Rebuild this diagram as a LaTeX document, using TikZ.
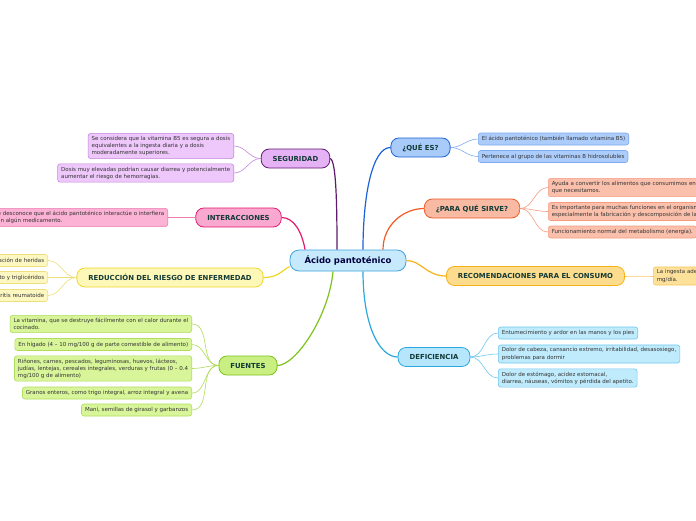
\documentclass[tikz,border=0pt]{standalone}
\usepackage{fontspec}
\setmainfont{DejaVu Sans}
\usepackage{tikz}
\usetikzlibrary{positioning}
\usepackage{xcolor}
\definecolor{topictxt}{HTML}{123A36}
\definecolor{leaftxt}{HTML}{333333}
\definecolor{cFill}{HTML}{C6E9FB}\definecolor{cLine}{HTML}{3FA3DE}
\definecolor{sgFill}{HTML}{E6B2F6}\definecolor{sgLine}{HTML}{5E1B6E}
\definecolor{sgLeaf}{HTML}{EEC7FB}\definecolor{sgEdge}{HTML}{C688DE}
\definecolor{inFill}{HTML}{F9A8D0}\definecolor{inLine}{HTML}{E5186E}
\definecolor{inLeaf}{HTML}{FBB2D4}\definecolor{inEdge}{HTML}{EF7DB1}
\definecolor{rdFill}{HTML}{FDF7B8}\definecolor{rdLine}{HTML}{F1D62A}
\definecolor{rdLeaf}{HTML}{FDF7C2}\definecolor{rdEdge}{HTML}{EEDF7C}
\definecolor{fuFill}{HTML}{C9EF82}\definecolor{fuLine}{HTML}{7EC31C}
\definecolor{fuLeaf}{HTML}{D8F59A}\definecolor{fuEdge}{HTML}{B0DC5C}
\definecolor{qeFill}{HTML}{A9CBFA}\definecolor{qeLine}{HTML}{1B62D6}
\definecolor{qeLeaf}{HTML}{ACCDFB}\definecolor{qeEdge}{HTML}{7DAAF0}
\definecolor{psFill}{HTML}{F9BAA4}\definecolor{psLine}{HTML}{F25A26}
\definecolor{psLeaf}{HTML}{FBC0AB}\definecolor{psEdge}{HTML}{F59C80}
\definecolor{rcFill}{HTML}{FDDC8E}\definecolor{rcLine}{HTML}{F7B21A}
\definecolor{rcLeaf}{HTML}{FDE09A}\definecolor{rcEdge}{HTML}{F8C860}
\definecolor{dfFill}{HTML}{B6E6FB}\definecolor{dfLine}{HTML}{2AA8E0}
\definecolor{dfLeaf}{HTML}{C0EBFC}\definecolor{dfEdge}{HTML}{6FC8F0}

\begin{document}
\begin{tikzpicture}[x=1pt,y=-1pt,
  topic/.style={draw,rounded corners=8pt,line width=0.8pt,minimum height=19pt,inner xsep=11.5pt,
    font=\fontsize{6.9}{8}\selectfont\bfseries,text=topictxt},
  leaf/.style={draw,rounded corners=2.5pt,line width=0.6pt,minimum height=12pt,inner xsep=3.5pt,
    inner ysep=2.8pt,align=left,font=\fontsize{5.5}{7.1}\selectfont,text=leaftxt},
  link/.style={line width=1.2pt},
  twig/.style={line width=0.6pt}]
\useasboundingbox (0,0) rectangle (696,520);
\clip (0,0) rectangle (696,520);
\fill[white] (0,0) rectangle (696,520);

% central topic
\node[draw=cLine,fill=cFill,line width=0.8pt,rounded corners=9pt,minimum width=116pt,minimum height=21pt,
  font=\fontsize{8.5}{10}\selectfont\bfseries,text=black!75!blue] (c) at (348,260.5) {Ácido pantoténico};

% main topics
\node[topic,draw=sgLine,fill=sgFill] (sg) at (295.5,158.5) {SEGURIDAD};
\node[topic,draw=inLine,fill=inFill] (in) at (238.5,217.5) {INTERACCIONES};
\node[topic,draw=rdLine,fill=rdFill] (rd) at (170,277.5) {REDUCCIÓN DEL RIESGO DE ENFERMEDAD};
\node[topic,draw=fuLine,fill=fuFill] (fu) at (248,365.5) {FUENTES};
\node[topic,draw=qeLine,fill=qeFill] (qe) at (420.5,147.5) {¿QUÉ ES?};
\node[topic,draw=psLine,fill=psFill] (ps) at (472,208.5) {¿PARA QUÉ SIRVE?};
\node[topic,draw=rcLine,fill=rcFill] (rc) at (535.5,276) {RECOMENDACIONES PARA EL CONSUMO};
\node[topic,draw=dfLine,fill=dfFill] (df) at (434,357) {DEFICIENCIA};

% links from the centre
\draw[link,sgLine] (sg.east) .. controls +(6,2) and +(0,-45) .. ([xshift=-11pt]c.north);
\draw[link,inLine] (in.east) .. controls +(12,0) and +(-3,-18) .. ([xshift=-43pt]c.north);
\draw[link,rdLine] (rd.east) .. controls +(15,0) and +(-8,4) .. ([yshift=-6pt]c.west);
\draw[link,fuLine] (fu.east) .. controls +(18,0) and +(-4,45) .. ([xshift=-15pt]c.south);
\draw[link,qeLine] (qe.west) .. controls +(-18,0) and +(0,-55) .. ([xshift=15pt]c.north);
\draw[link,psLine] (ps.west) .. controls +(-20,0) and +(0,-25) .. ([xshift=35pt]c.north);
\draw[link,rcLine] (rc.west) .. controls +(-20,0) and +(15,0) .. (c.east);
\draw[link,dfLine] (df.west) .. controls +(-18,0) and +(0,55) .. ([xshift=15pt]c.south);

% SEGURIDAD
\node[leaf,draw=sgEdge,fill=sgLeaf,anchor=east] (sg1) at (234,146) {Se considera que la vitamina B5 es segura a dosis\\equivalentes a la ingesta diaria y a dosis\\moderadamente superiores.};
\node[leaf,draw=sgEdge,fill=sgLeaf,anchor=east] (sg2) at (234,173) {Dosis muy elevadas podrían causar diarrea y potencialmente\\aumentar el riesgo de hemorragias.};
% INTERACCIONES
\node[leaf,draw=inEdge,fill=inLeaf,anchor=east] (in1) at (168,217.5) {Se desconoce que el ácido pantoténico interactúe o interfiera\\con algún medicamento.};
% REDUCCIÓN
\node[leaf,draw=rdEdge,fill=rdLeaf,anchor=east] (rd1) at (48,260.5) {Cicatrización de heridas};
\node[leaf,draw=rdEdge,fill=rdLeaf,anchor=east] (rd2) at (48,277.5) {Colesterol alto y triglicéridos};
\node[leaf,draw=rdEdge,fill=rdLeaf,anchor=east] (rd3) at (48,295.5) {Artritis reumatoide};
% FUENTES
\node[leaf,draw=fuEdge,fill=fuLeaf,anchor=east] (fu1) at (192,324) {La vitamina, que se destruye fácilmente con el calor durante el\\cocinado.};
\node[leaf,draw=fuEdge,fill=fuLeaf,anchor=east] (fu2) at (192,344.5) {En hígado (4 – 10 mg/100 g de parte comestible de alimento)};
\node[leaf,draw=fuEdge,fill=fuLeaf,anchor=east] (fu3) at (192,368.5) {Riñones, carnes, pescados, leguminosas, huevos, lácteos,\\judías, lentejas, cereales integrales, verduras y frutas (0 – 0.4\\mg/100 g de alimento)};
\node[leaf,draw=fuEdge,fill=fuLeaf,anchor=east] (fu4) at (192,393) {Granos enteros, como trigo integral, arroz integral y avena};
\node[leaf,draw=fuEdge,fill=fuLeaf,anchor=east] (fu5) at (192,410) {Maní, semillas de girasol y garbanzos};
% ¿QUÉ ES?
\node[leaf,draw=qeEdge,fill=qeLeaf,anchor=west] (qe1) at (478,139) {El ácido pantoténico (también llamado vitamina B5)};
\node[leaf,draw=qeEdge,fill=qeLeaf,anchor=west] (qe2) at (478,156.5) {Pertenece al grupo de las vitaminas B hidrosolubles};
% ¿PARA QUÉ SIRVE?
\node[leaf,draw=psEdge,fill=psLeaf,anchor=west] (ps1) at (548,187.5) {Ayuda a convertir los alimentos que consumimos en la energía\\que necesitamos.};
\node[leaf,draw=psEdge,fill=psLeaf,anchor=west] (ps2) at (548,211.5) {Es importante para muchas funciones en el organismo,\\especialmente la fabricación y descomposición de las grasas.};
\node[leaf,draw=psEdge,fill=psLeaf,anchor=west] (ps3) at (548,232) {Funcionamiento normal del metabolismo (energía).};
% RECOMENDACIONES
\node[leaf,draw=rcEdge,fill=rcLeaf,anchor=west] (rc1) at (653,276) {La ingesta adecuada es de 5\\mg/día.};
% DEFICIENCIA
\node[leaf,draw=dfEdge,fill=dfLeaf,anchor=west] (df1) at (498,333) {Entumecimiento y ardor en las manos y los pies};
\node[leaf,draw=dfEdge,fill=dfLeaf,anchor=west] (df2) at (498,354) {Dolor de cabeza, cansancio extremo, irritabilidad, desasosiego,\\problemas para dormir};
\node[leaf,draw=dfEdge,fill=dfLeaf,anchor=west] (df3) at (498,378) {Dolor de estómago, acidez estomacal,\\diarrea, náuseas, vómitos y pérdida del apetito.};

% twigs
\foreach \n in {sg1,sg2} \draw[twig,sgEdge] (sg.west) to[out=180,in=0] (\n.east);
\draw[twig,inEdge] (in.west) to[out=180,in=0] (in1.east);
\foreach \n in {rd1,rd2,rd3} \draw[twig,rdEdge] (rd.west) to[out=180,in=0] (\n.east);
\foreach \n in {fu1,fu2,fu3,fu4,fu5} \draw[twig,fuEdge] (fu.west) to[out=180,in=0] (\n.east);
\foreach \n in {qe1,qe2} \draw[twig,qeEdge] (qe.east) to[out=0,in=180] (\n.west);
\foreach \n in {ps1,ps2,ps3} \draw[twig,psEdge] (ps.east) to[out=0,in=180] (\n.west);
\draw[twig,rcEdge] (rc.east) to[out=0,in=180] (rc1.west);
\foreach \n in {df1,df2,df3} \draw[twig,dfEdge] (df.east) to[out=0,in=180] (\n.west);
\end{tikzpicture}
\end{document}
